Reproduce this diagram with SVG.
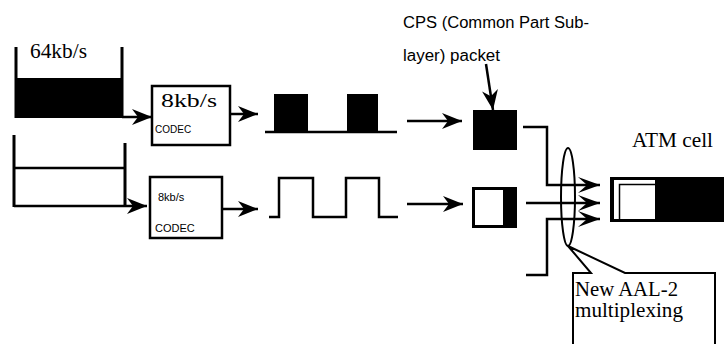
<svg xmlns="http://www.w3.org/2000/svg" width="724" height="344" viewBox="0 0 724 344">
<style>
.ln{fill:none;stroke:#000;stroke-width:2.5}
.wall{fill:none;stroke:#000;stroke-width:3}
.box{fill:#fff;stroke:#000;stroke-width:2.5}
.serif{font-family:"Liberation Serif","Times New Roman",serif;fill:#000}
.sans{font-family:"Liberation Sans",Arial,sans-serif;fill:#000}
</style>
<defs>
<marker id="ah" markerUnits="userSpaceOnUse" markerWidth="22" markerHeight="18" refX="20" refY="9" orient="auto">
<path d="M0,1 L20,9 L0,17 L6,9 z" fill="#000"/>
</marker>
<marker id="ah2" markerUnits="userSpaceOnUse" markerWidth="24" markerHeight="18" refX="22" refY="9" orient="auto">
<path d="M0,1 L22,9 L0,17 L9,9 z" fill="#000"/>
</marker>
</defs>

<g id="buffer64">
<rect x="16" y="78" width="106" height="40" fill="#000"/>
<path class="wall" d="M16,47 V118 M122,47 V118"/>
<text class="serif" x="30" y="58" font-size="20" textLength="57" lengthAdjust="spacingAndGlyphs">64kb/s</text>
</g>

<g id="buffer2">
<path class="wall" d="M14,135 V207 M125,143 V206"/>
<path class="ln" d="M14,168 H125"/>
</g>

<g id="codec1">
<rect class="box" x="152" y="86" width="78" height="59"/>
<text class="serif" x="161" y="107" font-size="19" textLength="56" lengthAdjust="spacingAndGlyphs">8kb/s</text>
<text class="sans" x="155" y="133" font-size="10">CODEC</text>
</g>

<g id="codec2">
<rect class="box" x="150" y="177" width="72" height="61"/>
<text class="sans" x="158" y="201" font-size="11">8kb/s</text>
<text class="sans" x="155" y="232" font-size="11">CODEC</text>
</g>

<g id="pulses1">
<rect x="274" y="94" width="34" height="38" fill="#000"/>
<rect x="347" y="94" width="31" height="38" fill="#000"/>
<path class="ln" d="M265,132 H397"/>
</g>

<g id="pulses2">
<path class="ln" d="M269,217 H279 V178 H313 V217 H346 V178 H379 V217 H398"/>
</g>

<g id="cps1">
<rect x="473" y="110" width="44" height="40" fill="#000"/>
</g>

<g id="cps2">
<rect x="472" y="187" width="45" height="41" fill="#000"/>
<rect x="475" y="190" width="28" height="35" fill="#fff"/>
</g>

<g id="cpsLabel">
<text class="sans" x="403" y="28" font-size="16" textLength="186" lengthAdjust="spacingAndGlyphs">CPS (Common Part Sub-</text>
<text class="sans" x="403" y="61" font-size="16" textLength="97" lengthAdjust="spacingAndGlyphs">layer) packet</text>
</g>

<g id="atmCell">
<rect x="610" y="177" width="114" height="45" fill="#000"/>
<rect x="614" y="180" width="41" height="39" fill="#fff"/>
<path d="M619.5,219 V184.5 H655" fill="none" stroke="#000" stroke-width="1.5"/>
<text class="serif" x="632" y="147" font-size="20" textLength="81" lengthAdjust="spacingAndGlyphs">ATM cell</text>
</g>

<g id="mux">
<ellipse cx="568" cy="197" rx="7" ry="49" fill="none" stroke="#000" stroke-width="2"/>
</g>

<g id="callout">
<path d="M573,344 V273 H591 L568,246 L625,273 H715 V344" fill="#fff" stroke="#000" stroke-width="2"/>
<text class="serif" x="575" y="296" font-size="20" textLength="103" lengthAdjust="spacingAndGlyphs">New AAL-2</text>
<text class="serif" x="575" y="317" font-size="20" textLength="108" lengthAdjust="spacingAndGlyphs">multiplexing</text>
</g>

<g id="connectors">
<path class="ln" d="M14,206 H147" marker-end="url(#ah)"/>
<path class="ln" d="M122,117 H152" marker-end="url(#ah)"/>
<path class="ln" d="M230,114 H258" marker-end="url(#ah)"/>
<path class="ln" d="M222,209 H258" marker-end="url(#ah)"/>
<path class="ln" d="M407,121 H462" marker-end="url(#ah)"/>
<path class="ln" d="M407,204 H463" marker-end="url(#ah)"/>
<path class="ln" d="M486,64 L493,110" stroke-width="1.8" marker-end="url(#ah)"/>
<path class="ln" d="M523,127 H547 V185 H600" marker-end="url(#ah2)"/>
<path class="ln" d="M526,203 H600" marker-end="url(#ah2)"/>
<path class="ln" d="M526,275 H547 V219 H600" marker-end="url(#ah2)"/>
</g>
</svg>
